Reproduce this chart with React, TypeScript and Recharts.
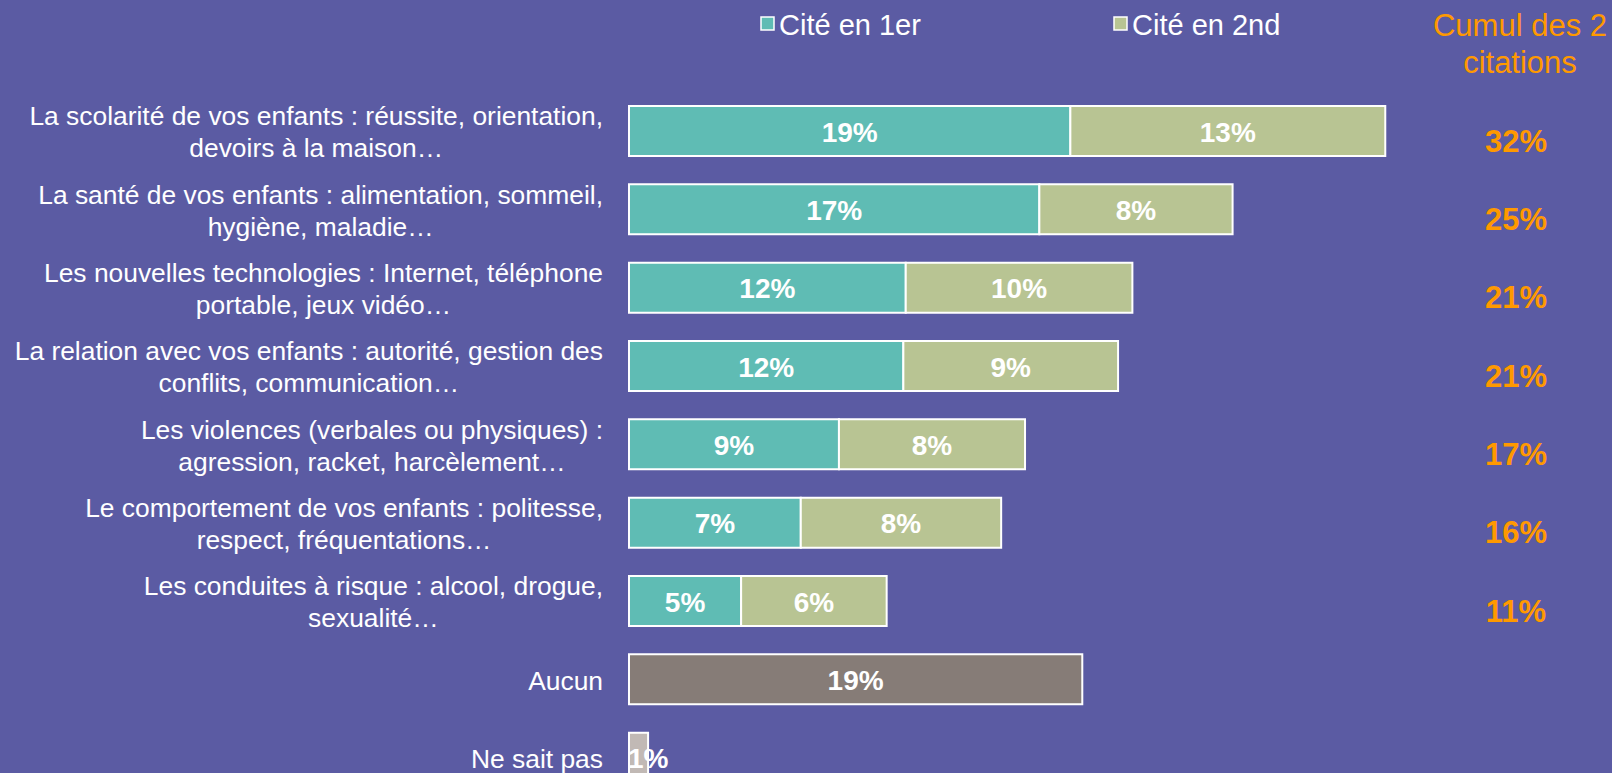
import React from 'react';
import { BarChart, Bar, XAxis, YAxis, LabelList, Cell } from 'recharts';

// ---- data ----
const categories: string[] = [
  'La scolarité de vos enfants : réussite, orientation,\ndevoirs à la maison…',
  'La santé de vos enfants : alimentation, sommeil,\nhygiène, maladie…',
  'Les nouvelles technologies : Internet, téléphone\nportable, jeux vidéo…',
  'La relation avec vos enfants : autorité, gestion des\nconflits, communication…',
  'Les violences (verbales ou physiques) :\nagression, racket, harcèlement…',
  'Le comportement de vos enfants : politesse,\nrespect, fréquentations…',
  'Les conduites à risque : alcool, drogue,\nsexualité…',
  'Aucun',
  'Ne sait pas',
];
const firstCited: (number | null)[] = [18.5, 17.2, 11.6, 11.5, 8.8, 7.2, 4.7, null, null];
const secondCited: (number | null)[] = [13.2, 8.1, 9.5, 9.0, 7.8, 8.4, 6.1, null, null];
const otherAnswers: (number | null)[] = [null, null, null, null, null, null, null, 19.0, 0.8];
const seriesNames: string[] = ['Cité en 1er', 'Cité en 2nd'];
const cumulTitle: string[] = ['Cumul des 2', 'citations'];

// ---- styles ----
const BG = '#5B5BA3';
const TEAL = '#5FBCB4';
const OLIVE = '#B8C493';
const AUCUN = '#867C77';
const NSP = '#C1B9B5';
const ORANGE = '#FF9900';
const FONT = '"Liberation Sans", Arial, sans-serif';
const CAT_FS = 26.4;

const totals = categories.map((_, i) =>
  firstCited[i] != null && secondCited[i] != null
    ? Math.round((firstCited[i] as number) + (secondCited[i] as number))
    : null
);

const data = categories.map((name, i) => ({
  name,
  first: firstCited[i],
  second: secondCited[i],
  other: otherAnswers[i],
}));

let ctx: CanvasRenderingContext2D | null = null;
const measure = (s: string) => {
  if (!ctx) ctx = document.createElement('canvas').getContext('2d');
  if (!ctx) return s.length * CAT_FS * 0.5;
  ctx.font = `${CAT_FS}px "Liberation Sans"`;
  return ctx.measureText(s).width;
};

const CategoryTick = (props: any) => {
  const { x, y, payload } = props;
  const lines = String(payload.value).split('\n');
  const maxW = Math.max(...lines.map(measure));
  const cx = x - maxW / 2;
  const lh = 32;
  return (
    <text x={cx} y={y} textAnchor="middle" fill="#FFFFFF" fontSize={CAT_FS} fontFamily={FONT}>
      {lines.map((l, i) => (
        <tspan key={i} x={cx} y={y + (i - (lines.length - 1) / 2) * lh + 10}>
          {l}
        </tspan>
      ))}
    </text>
  );
};

const TotalTick = (props: any) => {
  const { x, y, payload } = props;
  const idx = categories.indexOf(payload.value);
  const t = totals[idx];
  if (t == null) return null;
  return (
    <text x={x} y={y + 20.5} textAnchor="middle" fill={ORANGE} fontSize={31} fontWeight="bold" fontFamily={FONT}>
      {t}%
    </text>
  );
};

const BarLabel = (props: any) => {
  const vb = props.viewBox || props;
  const x = vb.x ?? props.x;
  const y = vb.y ?? props.y;
  const width = vb.width ?? props.width;
  const height = vb.height ?? props.height;
  const value = props.value;
  if (value == null || value === 0 || isNaN(Number(value))) return null;
  const narrow = width < 40;
  return (
    <text
      x={narrow ? x - 1 : x + width / 2}
      y={y + height / 2 + 10.5}
      textAnchor={narrow ? 'start' : 'middle'}
      fill="#FFFFFF"
      fontSize={28}
      fontWeight="bold"
      fontFamily={FONT}
    >
      {Math.round(Number(value))}%
    </text>
  );
};

export default function App() {
  const legendColors = [TEAL, OLIVE];
  const legendX = [761, 1114];
  return (
    <div
      style={{
        position: 'fixed',
        top: 0,
        left: 0,
        width: 1612,
        height: 773,
        overflow: 'hidden',
        background: BG,
      }}
    >
      <BarChart
        width={1612}
        height={797}
        data={data}
        layout="vertical"
        margin={{ top: 92, right: 0, bottom: 0, left: 0 }}
      >
        <XAxis type="number" hide domain={[0, 35]} />
        <YAxis
          yAxisId="left"
          type="category"
          dataKey="name"
          width={629}
          axisLine={false}
          tickLine={false}
          tickSize={0}
          tickMargin={26}
          interval={0}
          tick={<CategoryTick />}
        />
        <YAxis
          yAxisId="right"
          orientation="right"
          type="category"
          dataKey="name"
          width={148}
          axisLine={false}
          tickLine={false}
          tickSize={0}
          tickMargin={52}
          interval={0}
          tick={<TotalTick />}
        />
        <Bar dataKey="first" stackId="s" yAxisId="left" fill={TEAL} stroke="#FFFFFF" strokeWidth={2} barSize={50} isAnimationActive={false}>
          <LabelList dataKey="first" content={BarLabel} />
        </Bar>
        <Bar dataKey="second" stackId="s" yAxisId="left" fill={OLIVE} stroke="#FFFFFF" strokeWidth={2} barSize={50} isAnimationActive={false}>
          <LabelList dataKey="second" content={BarLabel} />
        </Bar>
        <Bar dataKey="other" stackId="s" yAxisId="left" fill={AUCUN} stroke="#FFFFFF" strokeWidth={2} barSize={50} isAnimationActive={false}>
          {data.map((d, i) => (
            <Cell key={i} fill={i === categories.length - 1 ? NSP : AUCUN} />
          ))}
          <LabelList dataKey="other" content={BarLabel} />
        </Bar>
      </BarChart>
      <svg
        width={1612}
        height={90}
        style={{ position: 'absolute', top: 0, left: 0, pointerEvents: 'none' }}
      >
        {seriesNames.map((n, i) => (
          <g key={n}>
            <rect x={legendX[i]} y={17} width={13} height={13} fill={legendColors[i]} stroke="#FFFFFF" strokeWidth={1.5} />
            <text x={legendX[i] + 18} y={35} fill="#FFFFFF" fontSize={29} fontFamily={FONT}>
              {n}
            </text>
          </g>
        ))}
        {cumulTitle.map((t, i) => (
          <text key={t} x={1520} y={36 + i * 37} textAnchor="middle" fill={ORANGE} fontSize={31} fontFamily={FONT}>
            {t}
          </text>
        ))}
      </svg>
    </div>
  );
}
